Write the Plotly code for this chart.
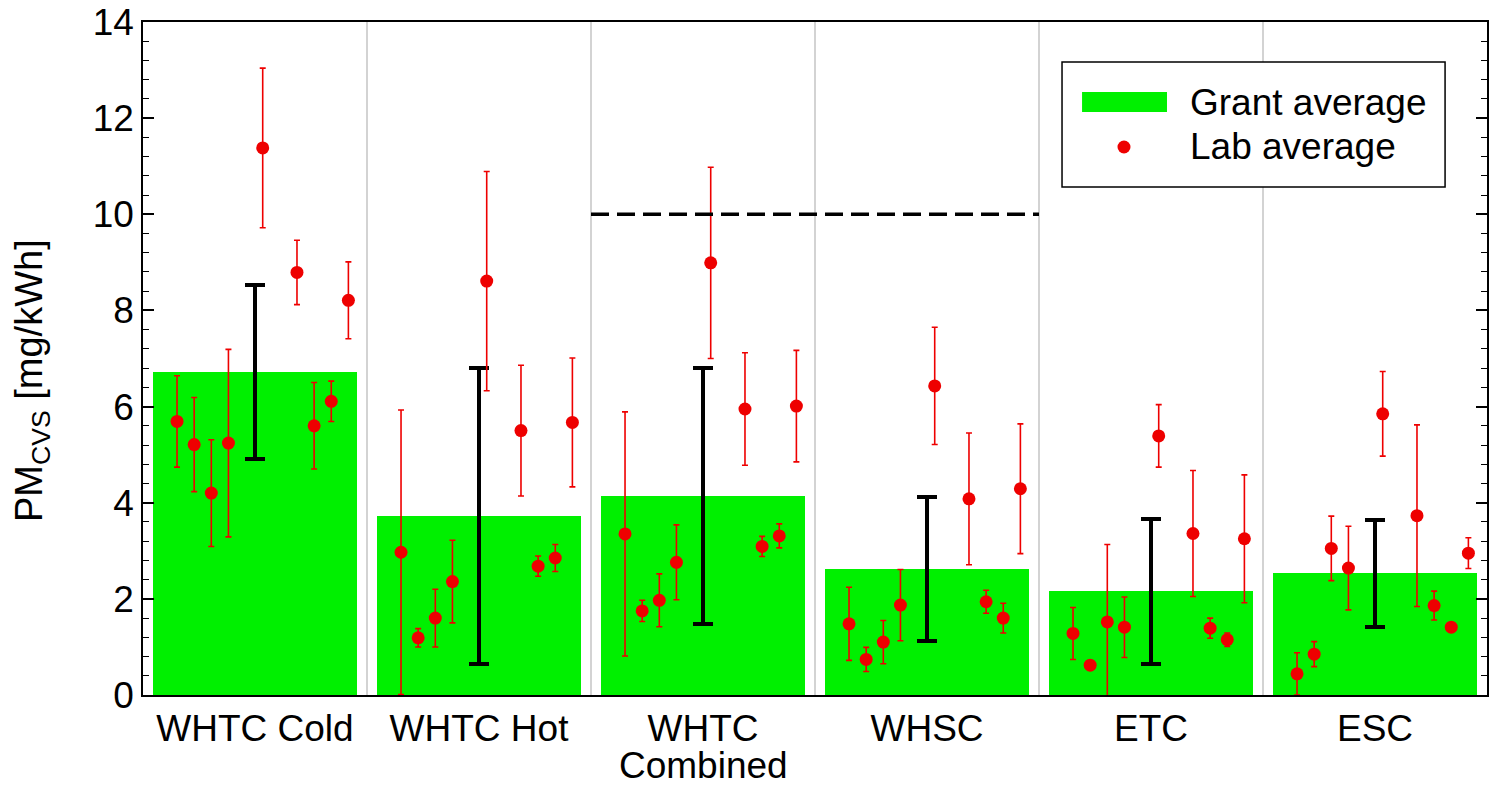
import plotly.graph_objects as go

# ---------------- data ----------------
categories = ["WHTC Cold", "WHTC Hot", "WHTC", "WHSC", "ETC", "ESC"]
category_second_line = ["", "", "Combined", "", "", ""]

grant_avg = [6.72, 3.72, 4.14, 2.62, 2.16, 2.53]
grant_sd = [1.81, 3.08, 2.66, 1.49, 1.51, 1.12]

lab_whtc_cold = [5.69, 5.21, 4.20, 5.24, 11.38, 8.79, 5.60, 6.11, 8.21]
lab_whtc_cold_err = [0.95, 0.98, 1.11, 1.95, 1.66, 0.67, 0.90, 0.42, 0.80]
lab_whtc_hot = [2.97, 1.19, 1.60, 2.36, 8.61, 5.50, 2.68, 2.85, 5.67]
lab_whtc_hot_err = [2.96, 0.19, 0.60, 0.86, 2.28, 1.36, 0.21, 0.28, 1.34]
lab_whtc_comb = [3.35, 1.75, 1.97, 2.76, 8.99, 5.95, 3.09, 3.31, 6.01]
lab_whtc_comb_err = [2.54, 0.22, 0.55, 0.78, 1.99, 1.17, 0.21, 0.25, 1.16]
lab_whsc = [1.48, 0.74, 1.10, 1.87, 6.43, 4.08, 1.94, 1.60, 4.29]
lab_whsc_err = [0.76, 0.25, 0.45, 0.74, 1.22, 1.37, 0.24, 0.31, 1.35]
lab_etc = [1.28, 0.62, 1.52, 1.41, 5.39, 3.36, 1.39, 1.15, 3.25]
lab_etc_err = [0.54, 0.04, 1.61, 0.63, 0.65, 1.31, 0.21, 0.14, 1.33]
lab_esc = [0.44, 0.85, 3.05, 2.64, 5.85, 3.73, 1.86, 1.41, 2.95]
lab_esc_err = [0.44, 0.26, 0.67, 0.87, 0.88, 1.89, 0.30, 0.07, 0.32]

limit_value = 10

# ---------------- layout helpers ----------------
lab_means = [lab_whtc_cold, lab_whtc_hot, lab_whtc_comb, lab_whsc, lab_etc, lab_esc]
lab_errs = [lab_whtc_cold_err, lab_whtc_hot_err, lab_whtc_comb_err, lab_whsc_err, lab_etc_err, lab_esc_err]
lab_slots = [0, 1, 2, 3, 5, 7, 8, 9, 10]   # horizontal slot of each lab inside a group
SLOT_W = 0.0765
SLOT_C = 4.55

lx, ly, le = [], [], []
for ci, (m, e) in enumerate(zip(lab_means, lab_errs)):
    for s, v, ev in zip(lab_slots, m, e):
        lx.append(ci + (s - SLOT_C) * SLOT_W)
        ly.append(v)
        le.append(ev)

FONT = "Liberation Sans, Arial, sans-serif"
GREEN = "#00f000"
RED = "#ee0000"
FS = 37

fig = go.Figure()
fig.add_trace(go.Bar(
    x=list(range(len(categories))), y=grant_avg, width=0.91,
    marker=dict(color=GREEN, line=dict(width=0)),
    error_y=dict(type="data", array=grant_sd, visible=True, color="black", thickness=4, width=10),
    showlegend=False,
))
fig.add_trace(go.Scatter(
    x=lx, y=ly, mode="markers",
    marker=dict(color=RED, size=13, line=dict(width=0)),
    error_y=dict(type="data", array=le, visible=True, color=RED, thickness=1.6, width=3),
    showlegend=False,
))

shapes = []
for b in [0.5, 1.5, 2.5, 3.5, 4.5]:
    shapes.append(dict(type="line", xref="x", yref="paper", x0=b, x1=b, y0=0, y1=1,
                       line=dict(color="#c4c4c4", width=1.5), layer="below"))
shapes.append(dict(type="line", xref="x", yref="y", x0=1.5, x1=3.5, y0=limit_value, y1=limit_value,
                   line=dict(color="black", width=3.5, dash="18px,8px"), layer="above"))
# legend box (manual)
shapes.append(dict(type="rect", xref="paper", yref="paper", x0=0.6838, x1=0.9688, y0=0.7548, y1=0.9406,
                   line=dict(color="black", width=1.5), fillcolor="white", layer="above"))
shapes.append(dict(type="rect", xref="paper", yref="paper", x0=0.6987, x1=0.7619, y0=0.8663, y1=0.8960,
                   line=dict(width=0), fillcolor=GREEN, layer="above"))
shapes.append(dict(type="circle", xref="paper", yref="paper",
                   x0=0.7299 - 6.5 / 1344, x1=0.7299 + 6.5 / 1344,
                   y0=0.8143 - 6.5 / 673, y1=0.8143 + 6.5 / 673,
                   line=dict(width=0), fillcolor=RED, layer="above"))

annotations = [
    dict(xref="paper", yref="paper", x=0.7775, y=0.8811, text="Grant average", showarrow=False,
         xanchor="left", yanchor="middle", font=dict(family=FONT, size=FS, color="black")),
    dict(xref="paper", yref="paper", x=0.7775, y=0.8143, text="Lab average", showarrow=False,
         xanchor="left", yanchor="middle", font=dict(family=FONT, size=FS, color="black")),
    dict(xref="paper", yref="paper", x=-0.0826, y=0.468, text="PM<sub>CVS</sub> [mg/kWh]",
         textangle=-90, showarrow=False, xanchor="center", yanchor="middle",
         font=dict(family=FONT, size=38, color="black")),
]
for i, t in enumerate(category_second_line):
    if t:
        annotations.append(dict(xref="x", yref="paper", x=i, y=-0.105, text=t, showarrow=False,
                                xanchor="center", yanchor="middle", borderpad=0,
                                font=dict(family=FONT, size=FS, color="black")))

fig.update_layout(
    width=1489, height=787,
    margin=dict(l=143, r=2, t=22, b=92),
    paper_bgcolor="white", plot_bgcolor="white",
    font=dict(family=FONT, size=FS, color="black"),
    shapes=shapes, annotations=annotations,
    bargap=0,
)
fig.update_xaxes(
    range=[-0.5, 5.5], tickmode="array", tickvals=list(range(len(categories))), ticktext=categories,
    showgrid=False, zeroline=False, ticks="", showline=True, linecolor="black", linewidth=1.5, mirror=True,
    tickfont=dict(family=FONT, size=FS, color="black"), automargin=False,
)
fig.update_yaxes(
    range=[0, 14], dtick=2, tick0=0, showgrid=False, zeroline=False,
    ticks="inside", ticklen=11, tickwidth=1.5, tickcolor="black",
    minor=dict(dtick=0.4, tick0=0, ticks="inside", ticklen=6, tickwidth=1.2, tickcolor="black", showgrid=False),
    showline=True, linecolor="black", linewidth=1.5, mirror="ticks",
    tickfont=dict(family=FONT, size=FS, color="black"), automargin=False,
)

fig.write_html("out.html")
